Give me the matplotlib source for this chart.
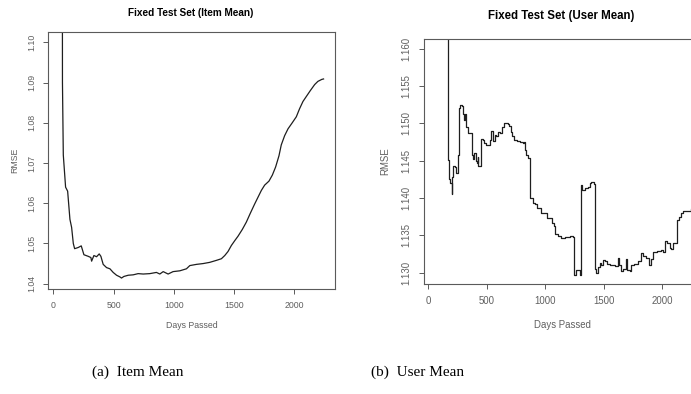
"""
plot.py

RMSE of the fixed test set against days passed, for the item-mean and
user-mean baselines, drawn side by side in the old R base-graphics look.
"""

import matplotlib

matplotlib.use("Agg")
import matplotlib.pyplot as plt

# item mean baseline
item_days = [
    75, 76, 83, 102, 119, 138, 152, 166, 177, 207, 232, 254, 290, 312, 318,
    337, 359, 381, 395, 414, 442, 470, 497, 525, 552, 566, 586, 622, 663,
    704, 746, 801, 856, 884, 912, 953, 994, 1050, 1105, 1133, 1188, 1243,
    1298, 1354, 1395, 1423, 1450, 1478, 1506, 1533, 1569, 1602, 1635, 1671,
    1699, 1727, 1754, 1790, 1818, 1845, 1873, 1892, 1920, 1948, 1983, 2017,
    2044, 2072, 2099, 2133, 2169, 2196, 2229, 2243,
]
item_rmse = [
    1.130, 1.0900, 1.0720, 1.0640, 1.0630, 1.0560, 1.0540, 1.0500, 1.0487,
    1.0490, 1.0494, 1.0472, 1.0468, 1.0465, 1.0456, 1.0470, 1.0467, 1.0474,
    1.0468, 1.0448, 1.0440, 1.0437, 1.0428, 1.0421, 1.0417, 1.0414, 1.0418,
    1.0421, 1.0422, 1.0425, 1.0424, 1.0425, 1.0428, 1.0424, 1.0430, 1.0424,
    1.0430, 1.0432, 1.0437, 1.0445, 1.0448, 1.0450, 1.0453, 1.0458, 1.0462,
    1.0470, 1.0480, 1.0495, 1.0507, 1.0518, 1.0535, 1.0553, 1.0575, 1.0598,
    1.0615, 1.0632, 1.0645, 1.0655, 1.0670, 1.0690, 1.0718, 1.0745, 1.0768,
    1.0785, 1.0800, 1.0815, 1.0835, 1.0853, 1.0865, 1.0880, 1.0895, 1.0903,
    1.0908, 1.0909,
]

# user mean baseline (step values)
user_days = [
    160, 166, 176, 185, 199, 206, 213, 228, 236, 250, 259, 262, 270, 284,
    293, 304, 313, 321, 341, 376, 384, 393, 404, 415, 421, 427, 450, 467,
    478, 495, 529, 535, 555, 569, 580, 597, 615, 634, 646, 677, 688, 703,
    717, 734, 754, 782, 811, 819, 828, 839, 850, 873, 896, 916, 933, 967,
    1013, 1053, 1073, 1087, 1110, 1138, 1166, 1212, 1238, 1249, 1263, 1294,
    1309, 1317, 1337, 1366, 1380, 1394, 1416, 1422, 1437, 1451, 1468, 1479,
    1494, 1513, 1528, 1550, 1593, 1622, 1630, 1644, 1664, 1687, 1697, 1721,
    1735, 1758, 1792, 1821, 1835, 1863, 1888, 1906, 1920, 1957, 1986, 2006,
    2020, 2043, 2063, 2077, 2091, 2125, 2142, 2156, 2176, 2219, 2242,
]
user_rmse = [
    1.1700, 1.1451, 1.1425, 1.1420, 1.1405, 1.1428, 1.1443, 1.1441, 1.1433,
    1.1458, 1.1460, 1.1520, 1.1525, 1.1523, 1.1513, 1.1505, 1.1513, 1.1495,
    1.1487, 1.1458, 1.1452, 1.1460, 1.1450, 1.1447, 1.1455, 1.1443, 1.1479,
    1.1478, 1.1474, 1.1471, 1.1477, 1.1490, 1.1476, 1.1485, 1.1483, 1.1488,
    1.1487, 1.1495, 1.1500, 1.1499, 1.1496, 1.1488, 1.1483, 1.1478, 1.1476,
    1.1475, 1.1473, 1.1475, 1.1464, 1.1457, 1.1453, 1.1400, 1.1393, 1.1392,
    1.1387, 1.1380, 1.1373, 1.1367, 1.1362, 1.1352, 1.1349, 1.1346, 1.1347,
    1.1349, 1.1347, 1.1297, 1.1303, 1.1297, 1.1417, 1.1410, 1.1413, 1.1415,
    1.1420, 1.1422, 1.1419, 1.1305, 1.1300, 1.1308, 1.1313, 1.1310, 1.1317,
    1.1315, 1.1312, 1.1310, 1.1309, 1.1320, 1.1310, 1.1302, 1.1305, 1.1318,
    1.1303, 1.1302, 1.1310, 1.1312, 1.1315, 1.1326, 1.1322, 1.1320, 1.1310,
    1.1318, 1.1328, 1.1329, 1.1330, 1.1328, 1.1342, 1.1340, 1.1333, 1.1332,
    1.1339, 1.1370, 1.1375, 1.1380, 1.1382, 1.1383, 1.1385,
]

x_ticks = [0, 500, 1000, 1500, 2000]
item_yticks = [1.04, 1.05, 1.06, 1.07, 1.08, 1.09, 1.10]
item_ylabels = ["1.04", "1.05", "1.06", "1.07", "1.08", "1.09", "1.10"]
user_yticks = [1.130, 1.135, 1.140, 1.145, 1.150, 1.155, 1.160]
user_ylabels = ["1.130", "1.135", "1.140", "1.145", "1.150", "1.155", "1.160"]

FRAME = "#5a5a5a"
TEXT = "#5f5f5f"
LINE = "#1e1e1e"

plt.rcParams["font.family"] = ["Liberation Sans", "DejaVu Sans"]


def r_style(ax, xlim, ylim, yticks, ylabels, fs, xlab_y, ylab_x):
    """Base-R look: grey box, outward ticks, y labels turned along the axis."""
    ax.set_xlim(*xlim)
    ax.set_ylim(*ylim)
    for spine in ax.spines.values():
        spine.set_color(FRAME)
        spine.set_linewidth(0.8)
    ax.set_xticks(x_ticks)
    ax.set_xticklabels([str(t) for t in x_ticks])
    ax.set_yticks(yticks)
    ax.set_yticklabels(ylabels)
    ax.tick_params(
        direction="out", length=3.5, width=0.7, color=FRAME,
        labelcolor=TEXT, labelsize=fs, pad=5,
    )
    for lab in ax.get_yticklabels():
        lab.set_rotation(90)
        lab.set_va("center")
    ax.set_xlabel("Days Passed", fontsize=fs, color=TEXT)
    ax.set_ylabel("RMSE", fontsize=fs, color=TEXT)
    ax.xaxis.label.set_va("center")
    ax.yaxis.label.set_va("center")
    ax.xaxis.set_label_coords(0.5, xlab_y)
    ax.yaxis.set_label_coords(ylab_x, 0.5)


fig = plt.figure(figsize=(6.91, 3.94), dpi=100)
fig.patch.set_facecolor("white")

ax1 = fig.add_axes([0.0699, 0.2657, 0.4149, 0.6523])
ax1.plot(item_days, item_rmse, color=LINE, linewidth=0.9)
r_style(ax1, (-41.5, 2338), (1.0386, 1.1025), item_yticks, item_ylabels,
        6.3, -0.139, -0.116)

ax2 = fig.add_axes([0.6129, 0.2799, 0.4030, 0.6203])
ax2.plot(user_days, user_rmse, color=LINE, linewidth=0.9, drawstyle="steps-post")
r_style(ax2, (-41, 2339), (1.1285, 1.16126), user_yticks, user_ylabels,
        6.9, -0.169, -0.138)

fig.text(191 / 691, 1 - 13.5 / 394, "Fixed Test Set (Item Mean)",
         ha="center", va="center", fontsize=7.2, fontweight="bold")
fig.text(561.5 / 691, 1 - 15.7 / 394, "Fixed Test Set (User Mean)",
         ha="center", va="center", fontsize=8.3, fontweight="bold")

fig.text(138 / 691, 1 - 372 / 394, "(a)  Item Mean", ha="center", va="center",
         fontsize=11, family=["Liberation Serif", "DejaVu Serif"])
fig.text(417.5 / 691, 1 - 372 / 394, "(b)  User Mean", ha="center", va="center",
         fontsize=11, family=["Liberation Serif", "DejaVu Serif"])

fig.savefig("out.png", dpi=100)
